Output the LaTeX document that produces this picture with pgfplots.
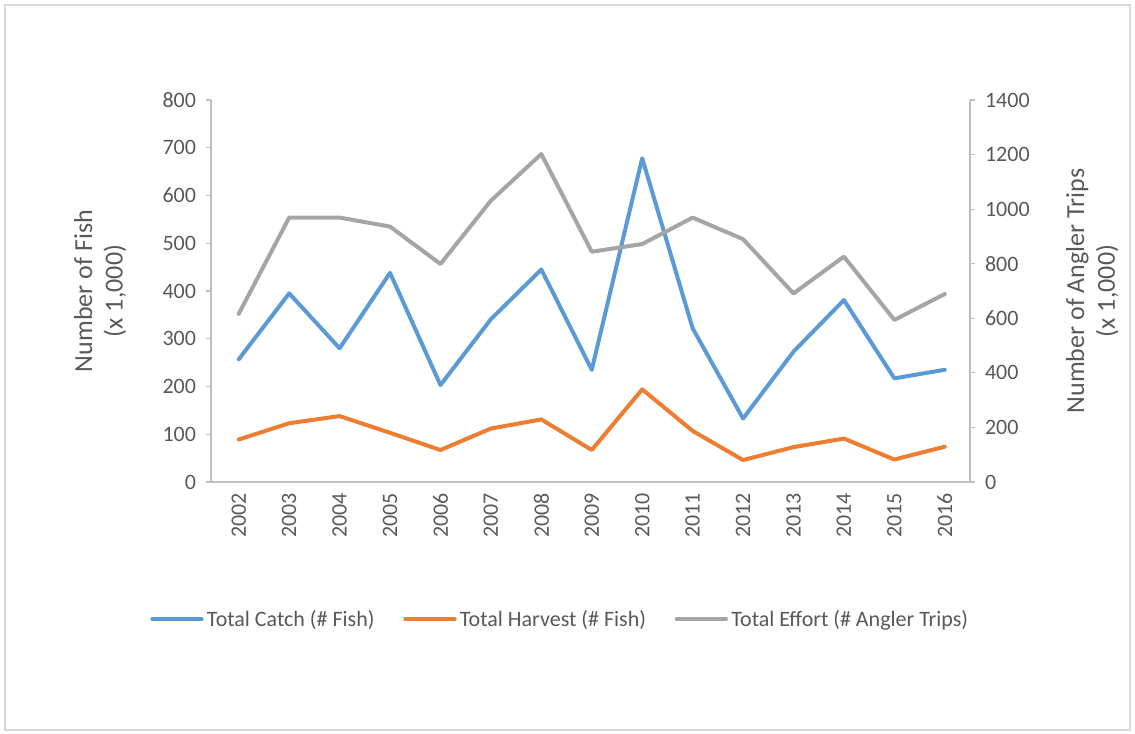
\documentclass[border=0pt]{standalone}
\usepackage{pgfplots}
\pgfplotsset{compat=1.18}
\usepackage{fontspec}
\setmainfont{Carlito}
\definecolor{txt}{HTML}{595959}
\definecolor{axc}{HTML}{BFBFBF}
\definecolor{frame}{HTML}{D9D9D9}
\definecolor{cblue}{HTML}{5B9BD5}
\definecolor{corange}{HTML}{ED7D31}
\definecolor{cgray}{HTML}{A5A5A5}
\newcommand{\fs}{\fontsize{16.5}{22.5}\selectfont}
\newcommand{\fl}{\fontsize{19.5}{23}\selectfont}
\begin{document}
\begin{tikzpicture}
\useasboundingbox (0,0) rectangle (851.25pt,550.5pt);
\draw[frame, line width=1.2pt] (3.75pt,3pt) rectangle (847.5pt,546.75pt);
\pgfplotsset{
  common/.style={
    at={(158.25pt,189pt)}, anchor=south west, scale only axis,
    width=569.25pt, height=286.5pt,
    xmin=-0.55, xmax=14.5,
    axis line style={-, draw=axc, line width=0.8pt},
    tick style={draw=axc, line width=0.8pt},
    tick align=outside, major tick length=3.75pt,
    ticklabel style={font=\fs, text=txt},
    label style={font=\fl, text=txt},
    /pgf/number format/assume math mode=true,
    /pgf/number format/1000 sep={},
    every axis plot/.append style={line width=3pt, line join=round, line cap=round, mark=none},
  }
}
\begin{axis}[common,
  axis y line*=left, axis x line*=bottom,
  ymin=0, ymax=800, ytick={0,100,...,800},
  xtick={0,...,14},
  xticklabels={2002,2003,2004,2005,2006,2007,2008,2009,2010,2011,2012,2013,2014,2015,2016},
  xtick style={draw=none},
  xticklabel style={rotate=90, anchor=east, xshift=-1pt},
  yticklabel style={xshift=-4pt},
  ylabel={Number of Fish\\(x 1,000)},
  ylabel style={at={(axis description cs:-0.146,0.5)}, anchor=center, align=center},
  legend columns=3,
  legend style={at={(axis description cs:0.461,-0.359)}, anchor=center, draw=none,
    font=\fs, text=txt, /tikz/every even column/.append style={column sep=19pt},
    inner sep=0pt, nodes={inner xsep=2.5pt}},
  legend image code/.code={\draw[#1, line cap=round] (0pt,0pt) -- (37pt,0pt);},
]
\addplot[cblue] coordinates {(0,257) (1,395) (2,280) (3,438) (4,203) (5,341) (6,445) (7,235) (8,678) (9,322) (10,133) (11,273) (12,381) (13,217) (14,235)};
\addlegendentry{Total Catch (\# Fish)}
\addplot[corange] coordinates {(0,89) (1,123) (2,138) (3,103) (4,67) (5,112) (6,131) (7,67) (8,194) (9,107) (10,46) (11,73) (12,91) (13,47) (14,74)};
\addlegendentry{Total Harvest (\# Fish)}
\addlegendimage{cgray, line width=3pt}
\addlegendentry{Total Effort (\# Angler Trips)}
\end{axis}
\begin{axis}[common,
  axis y line*=right, axis x line=none,
  ymin=0, ymax=1400, ytick={0,200,...,1400},
  yticklabel style={xshift=4pt},
  ylabel={Number of Angler Trips\\(x 1,000)},
  ylabel style={at={(axis description cs:1.161,0.5)}, anchor=center, align=center, rotate=0},
]
\addplot[cgray] coordinates {(0,616) (1,969) (2,969) (3,936) (4,799) (5,1031) (6,1202) (7,844) (8,872) (9,969) (10,890) (11,691) (12,826) (13,594) (14,689)};
\end{axis}
\end{tikzpicture}
\end{document}
